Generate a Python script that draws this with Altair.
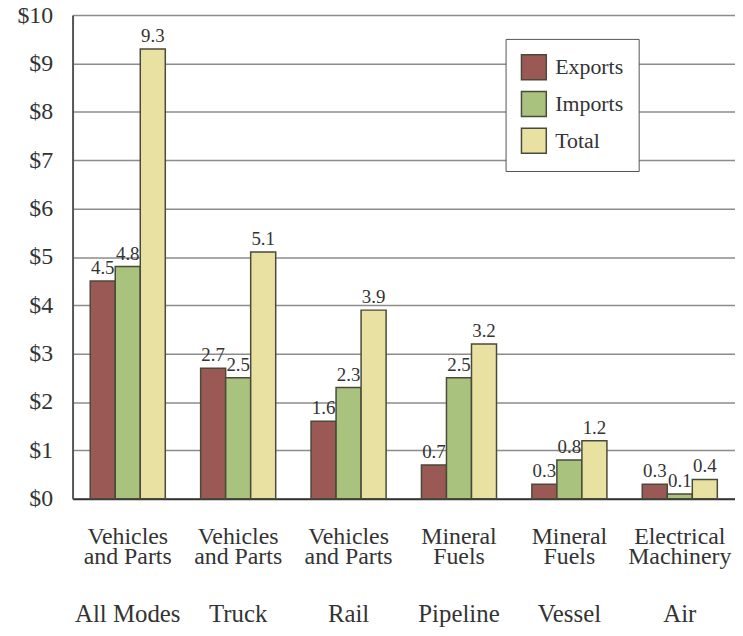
import json
import altair as alt
import pandas as pd

modes = ["All Modes", "Truck", "Rail", "Pipeline", "Vessel", "Air"]
category_lines = [
    ["Vehicles", "and Parts"],
    ["Vehicles", "and Parts"],
    ["Vehicles", "and Parts"],
    ["Mineral", "Fuels"],
    ["Mineral", "Fuels"],
    ["Electrical", "Machinery"],
]
series = ["Exports", "Imports", "Total"]
exports = [4.5, 2.7, 1.6, 0.7, 0.3, 0.3]
imports = [4.8, 2.5, 2.3, 2.5, 0.8, 0.1]
totals = [9.3, 5.1, 3.9, 3.2, 1.2, 0.4]
y_ticks = [0, 1, 2, 3, 4, 5, 6, 7, 8, 9, 10]
colors = ["#9b5955", "#a9c27e", "#e8e1a2"]

rows = []
for i, m in enumerate(modes):
    for s, vals in zip(series, [exports, imports, totals]):
        rows.append({"mode": m, "series": s, "value": vals[i]})
df = pd.DataFrame(rows)

label_map = {m: lines for m, lines in zip(modes, category_lines)}
label_expr = json.dumps(label_map) + "[datum.value]"

serif = "Liberation Serif"
xscale = alt.Scale(paddingInner=0.32, paddingOuter=0.16)

x_cat = alt.X(
    "mode:N",
    sort=modes,
    scale=xscale,
    axis=alt.Axis(
        title=None,
        orient="bottom",
        labelExpr=label_expr,
        labelAngle=0,
        labelFont=serif,
        labelFontSize=24,
        labelLineHeight=20,
        labelColor="#333333",
        labelPadding=26,
        labelOverlap=False,
        labelLimit=300,
        ticks=False,
        domain=True,
        domainColor="#333333",
        domainWidth=2,
        grid=False,
    ),
)
x_mode = alt.X(
    "mode:N",
    sort=modes,
    scale=xscale,
    axis=alt.Axis(
        title=None,
        orient="bottom",
        offset=80,
        labelAngle=0,
        labelFont=serif,
        labelFontSize=25,
        labelColor="#333333",
        labelPadding=24,
        labelOverlap=False,
        labelLimit=300,
        ticks=False,
        domain=False,
        grid=False,
    ),
)
y = alt.Y(
    "value:Q",
    scale=alt.Scale(domain=[0, 10], nice=False),
    axis=alt.Axis(
        title=None,
        values=y_ticks,
        labelExpr="'$' + datum.value",
        labelFont=serif,
        labelFontSize=24,
        labelColor="#333333",
        labelPadding=20,
        ticks=False,
        domain=True,
        domainColor="#555555",
        domainWidth=2,
        grid=True,
        gridColor="#8c8c8c",
        gridWidth=1.5,
    ),
)
xoff = alt.XOffset("series:N", sort=series, scale=alt.Scale(paddingInner=0, paddingOuter=0))

bars = alt.Chart(df).mark_bar(stroke="#4a4a3a", strokeWidth=1.5).encode(
    x=x_cat,
    y=y,
    xOffset=xoff,
    color=alt.Color(
        "series:N",
        sort=series,
        scale=alt.Scale(domain=series, range=colors),
        legend=alt.Legend(
            title=None,
            orient="none",
            legendX=436,
            legendY=24,
            direction="vertical",
            fillColor="white",
            strokeColor="#555555",
            padding=15,
            symbolType="square",
            symbolSize=625,
            symbolStrokeColor="#4a4a3a",
            symbolStrokeWidth=1.5,
            symbolOpacity=1,
            labelFont=serif,
            labelFontSize=22,
            labelColor="#333333",
            labelOffset=8,
            rowPadding=6,
        ),
    ),
)

texts = alt.Chart(df).mark_text(
    baseline="bottom", dy=-3, font=serif, fontSize=19, color="#333333"
).encode(
    x=x_mode,
    y=y,
    xOffset=xoff,
    text=alt.Text("value:Q", format=".1f"),
)

chart = (
    alt.layer(bars, texts)
    .resolve_axis(x="independent")
    .properties(
        width=667,
        height=487,
        autosize=alt.AutoSizeParams(type="none"),
        padding={"left": 65, "top": 5, "right": 0, "bottom": 128},
    )
    .configure_view(stroke=None)
)

chart.save("out.html", embed_options={"renderer": "svg", "actions": False})
